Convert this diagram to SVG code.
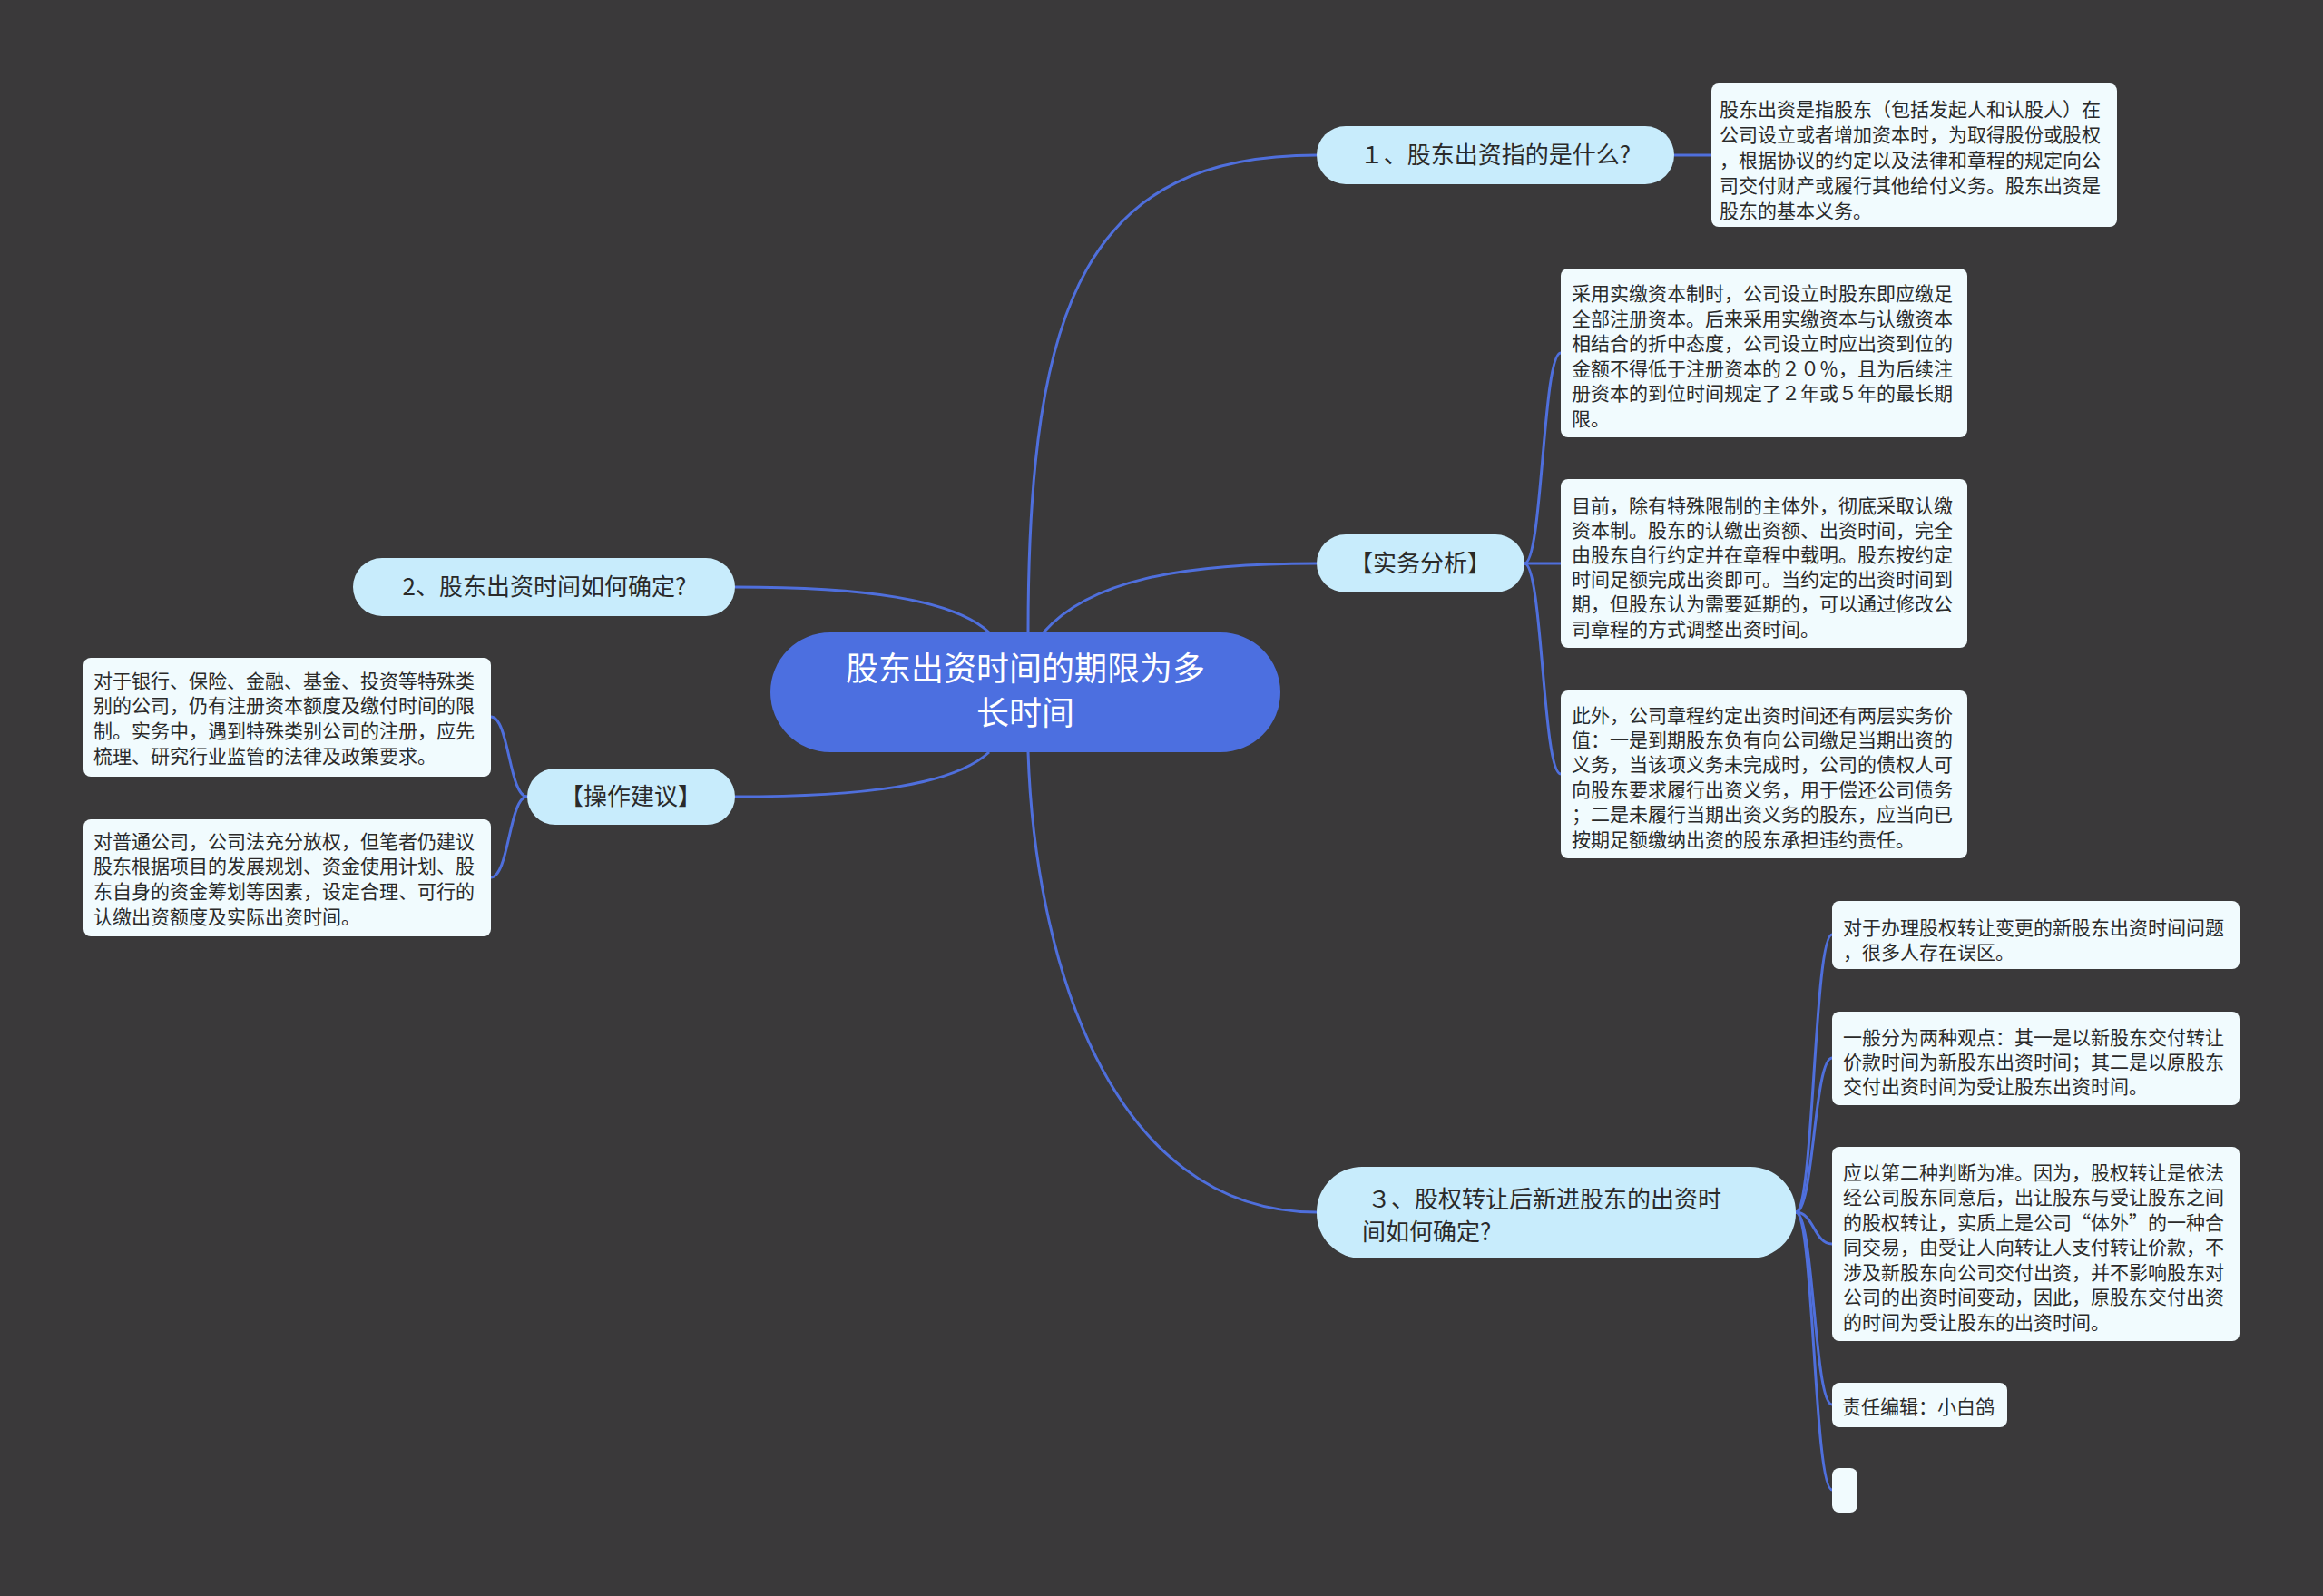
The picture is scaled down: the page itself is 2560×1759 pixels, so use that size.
<svg xmlns="http://www.w3.org/2000/svg" width="2560" height="1759" viewBox="0 0 2560 1759">
<style>
.bg{fill:#3a393a}
.ln{fill:none;stroke:#4f6fdc;stroke-width:3}
.root{fill:#4c6fe0}
.l1{fill:#c8ecfc}
.leaf{fill:#f1fbfe}
text{font-family:"Microsoft YaHei","Noto Sans CJK SC","Noto Sans",sans-serif;fill:#2a2a2a}
.rt{font-size:36px;fill:#ffffff}
.t1{font-size:26px}
.t2{font-size:21px}
</style>
<rect class="bg" x="0" y="0" width="2560" height="1759"/>
<g id="connectors">
<path class="ln" d="M1133 697 C1133 330 1200 171 1451 171"/>
<path class="ln" d="M1150 697 C1200 640 1300 621 1451 621"/>
<path class="ln" d="M1133 829 C1140 1050 1220 1336 1451 1336"/>
<path class="ln" d="M1090 697 C1050 660 950 647 810 647"/>
<path class="ln" d="M1090 829 C1050 866 950 878 810 878"/>
<path class="ln" d="M1845 171 L1886 171"/>
<path class="ln" d="M1680 621 C1700 621 1700 389 1720 389"/>
<path class="ln" d="M1680 621 L1720 621"/>
<path class="ln" d="M1680 621 C1700 621 1700 853 1720 853"/>
<path class="ln" d="M581 878 C561 878 561 790 541 790"/>
<path class="ln" d="M581 878 C561 878 561 967 541 967"/>
<path class="ln" d="M1979 1336 C1999 1336 1999 1030 2019 1030"/>
<path class="ln" d="M1979 1336 C1999 1336 1999 1166 2019 1166"/>
<path class="ln" d="M1979 1336 C1999 1336 1999 1371 2019 1371"/>
<path class="ln" d="M1979 1336 C1999 1336 1999 1548 2019 1548"/>
<path class="ln" d="M1979 1336 C1999 1336 1999 1642 2019 1642"/>
</g>
<g id="root">
<rect class="root" x="849" y="697" width="562" height="132" rx="66"/>
<text class="rt" x="1130" y="750" text-anchor="middle">股东出资时间的期限为多</text>
<text class="rt" x="1130" y="799" text-anchor="middle">长时间</text>
</g>
<g id="n1">
<rect class="l1" x="1451" y="139" width="394" height="64" rx="32"/>
<text class="t1" x="1648" y="180" text-anchor="middle">１、股东出资指的是什么?</text>
</g>
<g id="n1a">
<rect class="leaf" x="1886" y="92" width="447" height="158" rx="8"/>
<text class="t2" x="1895" y="127.5"><tspan x="1895">股东出资是指股东（包括发起人和认股人）在</tspan><tspan x="1895" dy="28">公司设立或者增加资本时，为取得股份或股权</tspan><tspan x="1895" dy="28">，根据协议的约定以及法律和章程的规定向公</tspan><tspan x="1895" dy="28">司交付财产或履行其他给付义务。股东出资是</tspan><tspan x="1895" dy="28">股东的基本义务。</tspan></text>
</g>
<g id="n2">
<rect class="l1" x="389" y="615" width="421" height="64" rx="32"/>
<text class="t1" x="600" y="656" text-anchor="middle">2、股东出资时间如何确定?</text>
</g>
<g id="n4">
<rect class="l1" x="1451" y="589" width="229" height="64" rx="32"/>
<text class="t1" x="1565" y="630" text-anchor="middle">【实务分析】</text>
</g>
<g id="n4a">
<rect class="leaf" x="1720" y="296" width="448" height="186" rx="8"/>
<text class="t2" x="1732" y="331"><tspan x="1732">采用实缴资本制时，公司设立时股东即应缴足</tspan><tspan x="1732" dy="27.6">全部注册资本。后来采用实缴资本与认缴资本</tspan><tspan x="1732" dy="27.6">相结合的折中态度，公司设立时应出资到位的</tspan><tspan x="1732" dy="27.6">金额不得低于注册资本的２０％，且为后续注</tspan><tspan x="1732" dy="27.6">册资本的到位时间规定了２年或５年的最长期</tspan><tspan x="1732" dy="27.6">限。</tspan></text>
</g>
<g id="n4b">
<rect class="leaf" x="1720" y="528" width="448" height="186" rx="8"/>
<text class="t2" x="1732" y="564.5"><tspan x="1732">目前，除有特殊限制的主体外，彻底采取认缴</tspan><tspan x="1732" dy="27.2">资本制。股东的认缴出资额、出资时间，完全</tspan><tspan x="1732" dy="27.2">由股东自行约定并在章程中载明。股东按约定</tspan><tspan x="1732" dy="27.2">时间足额完成出资即可。当约定的出资时间到</tspan><tspan x="1732" dy="27.2">期，但股东认为需要延期的，可以通过修改公</tspan><tspan x="1732" dy="27.2">司章程的方式调整出资时间。</tspan></text>
</g>
<g id="n4c">
<rect class="leaf" x="1720" y="761" width="448" height="185" rx="8"/>
<text class="t2" x="1732" y="795.5"><tspan x="1732">此外，公司章程约定出资时间还有两层实务价</tspan><tspan x="1732" dy="27.4">值：一是到期股东负有向公司缴足当期出资的</tspan><tspan x="1732" dy="27.4">义务，当该项义务未完成时，公司的债权人可</tspan><tspan x="1732" dy="27.4">向股东要求履行出资义务，用于偿还公司债务</tspan><tspan x="1732" dy="27.4">；二是未履行当期出资义务的股东，应当向已</tspan><tspan x="1732" dy="27.4">按期足额缴纳出资的股东承担违约责任。</tspan></text>
</g>
<g id="n5">
<rect class="l1" x="581" y="847" width="229" height="62" rx="31"/>
<text class="t1" x="695" y="887" text-anchor="middle">【操作建议】</text>
</g>
<g id="n5a">
<rect class="leaf" x="92" y="725" width="449" height="131" rx="8"/>
<text class="t2" x="103" y="757.5"><tspan x="103">对于银行、保险、金融、基金、投资等特殊类</tspan><tspan x="103" dy="27.7">别的公司，仍有注册资本额度及缴付时间的限</tspan><tspan x="103" dy="27.7">制。实务中，遇到特殊类别公司的注册，应先</tspan><tspan x="103" dy="27.7">梳理、研究行业监管的法律及政策要求。</tspan></text>
</g>
<g id="n5b">
<rect class="leaf" x="92" y="903" width="449" height="129" rx="8"/>
<text class="t2" x="103" y="934.5"><tspan x="103">对普通公司，公司法充分放权，但笔者仍建议</tspan><tspan x="103" dy="27.7">股东根据项目的发展规划、资金使用计划、股</tspan><tspan x="103" dy="27.7">东自身的资金筹划等因素，设定合理、可行的</tspan><tspan x="103" dy="27.7">认缴出资额度及实际出资时间。</tspan></text>
</g>
<g id="n3">
<rect class="l1" x="1451" y="1286" width="528" height="101" rx="50"/>
<text class="t1" x="1507" y="1331">３、股权转让后新进股东的出资时</text>
<text class="t1" x="1501" y="1367">间如何确定?</text>
</g>
<g id="n3a">
<rect class="leaf" x="2019" y="993" width="449" height="75" rx="8"/>
<text class="t2" x="2031" y="1029.5"><tspan x="2031">对于办理股权转让变更的新股东出资时间问题</tspan><tspan x="2031" dy="27">，很多人存在误区。</tspan></text>
</g>
<g id="n3b">
<rect class="leaf" x="2019" y="1115" width="449" height="103" rx="8"/>
<text class="t2" x="2031" y="1150.5"><tspan x="2031">一般分为两种观点：其一是以新股东交付转让</tspan><tspan x="2031" dy="27">价款时间为新股东出资时间；其二是以原股东</tspan><tspan x="2031" dy="27">交付出资时间为受让股东出资时间。</tspan></text>
</g>
<g id="n3c">
<rect class="leaf" x="2019" y="1264" width="449" height="214" rx="8"/>
<text class="t2" x="2031" y="1299.5"><tspan x="2031">应以第二种判断为准。因为，股权转让是依法</tspan><tspan x="2031" dy="27.5">经公司股东同意后，出让股东与受让股东之间</tspan><tspan x="2031" dy="27.5">的股权转让，实质上是公司“体外”的一种合</tspan><tspan x="2031" dy="27.5">同交易，由受让人向转让人支付转让价款，不</tspan><tspan x="2031" dy="27.5">涉及新股东向公司交付出资，并不影响股东对</tspan><tspan x="2031" dy="27.5">公司的出资时间变动，因此，原股东交付出资</tspan><tspan x="2031" dy="27.5">的时间为受让股东的出资时间。</tspan></text>
</g>
<g id="n3d">
<rect class="leaf" x="2019" y="1524" width="193" height="49" rx="8"/>
<text class="t2" x="2030" y="1557.5">责任编辑：小白鸽</text>
</g>
<g id="n3e">
<rect class="leaf" x="2019" y="1618" width="28" height="49" rx="8"/>
</g>
</svg>
